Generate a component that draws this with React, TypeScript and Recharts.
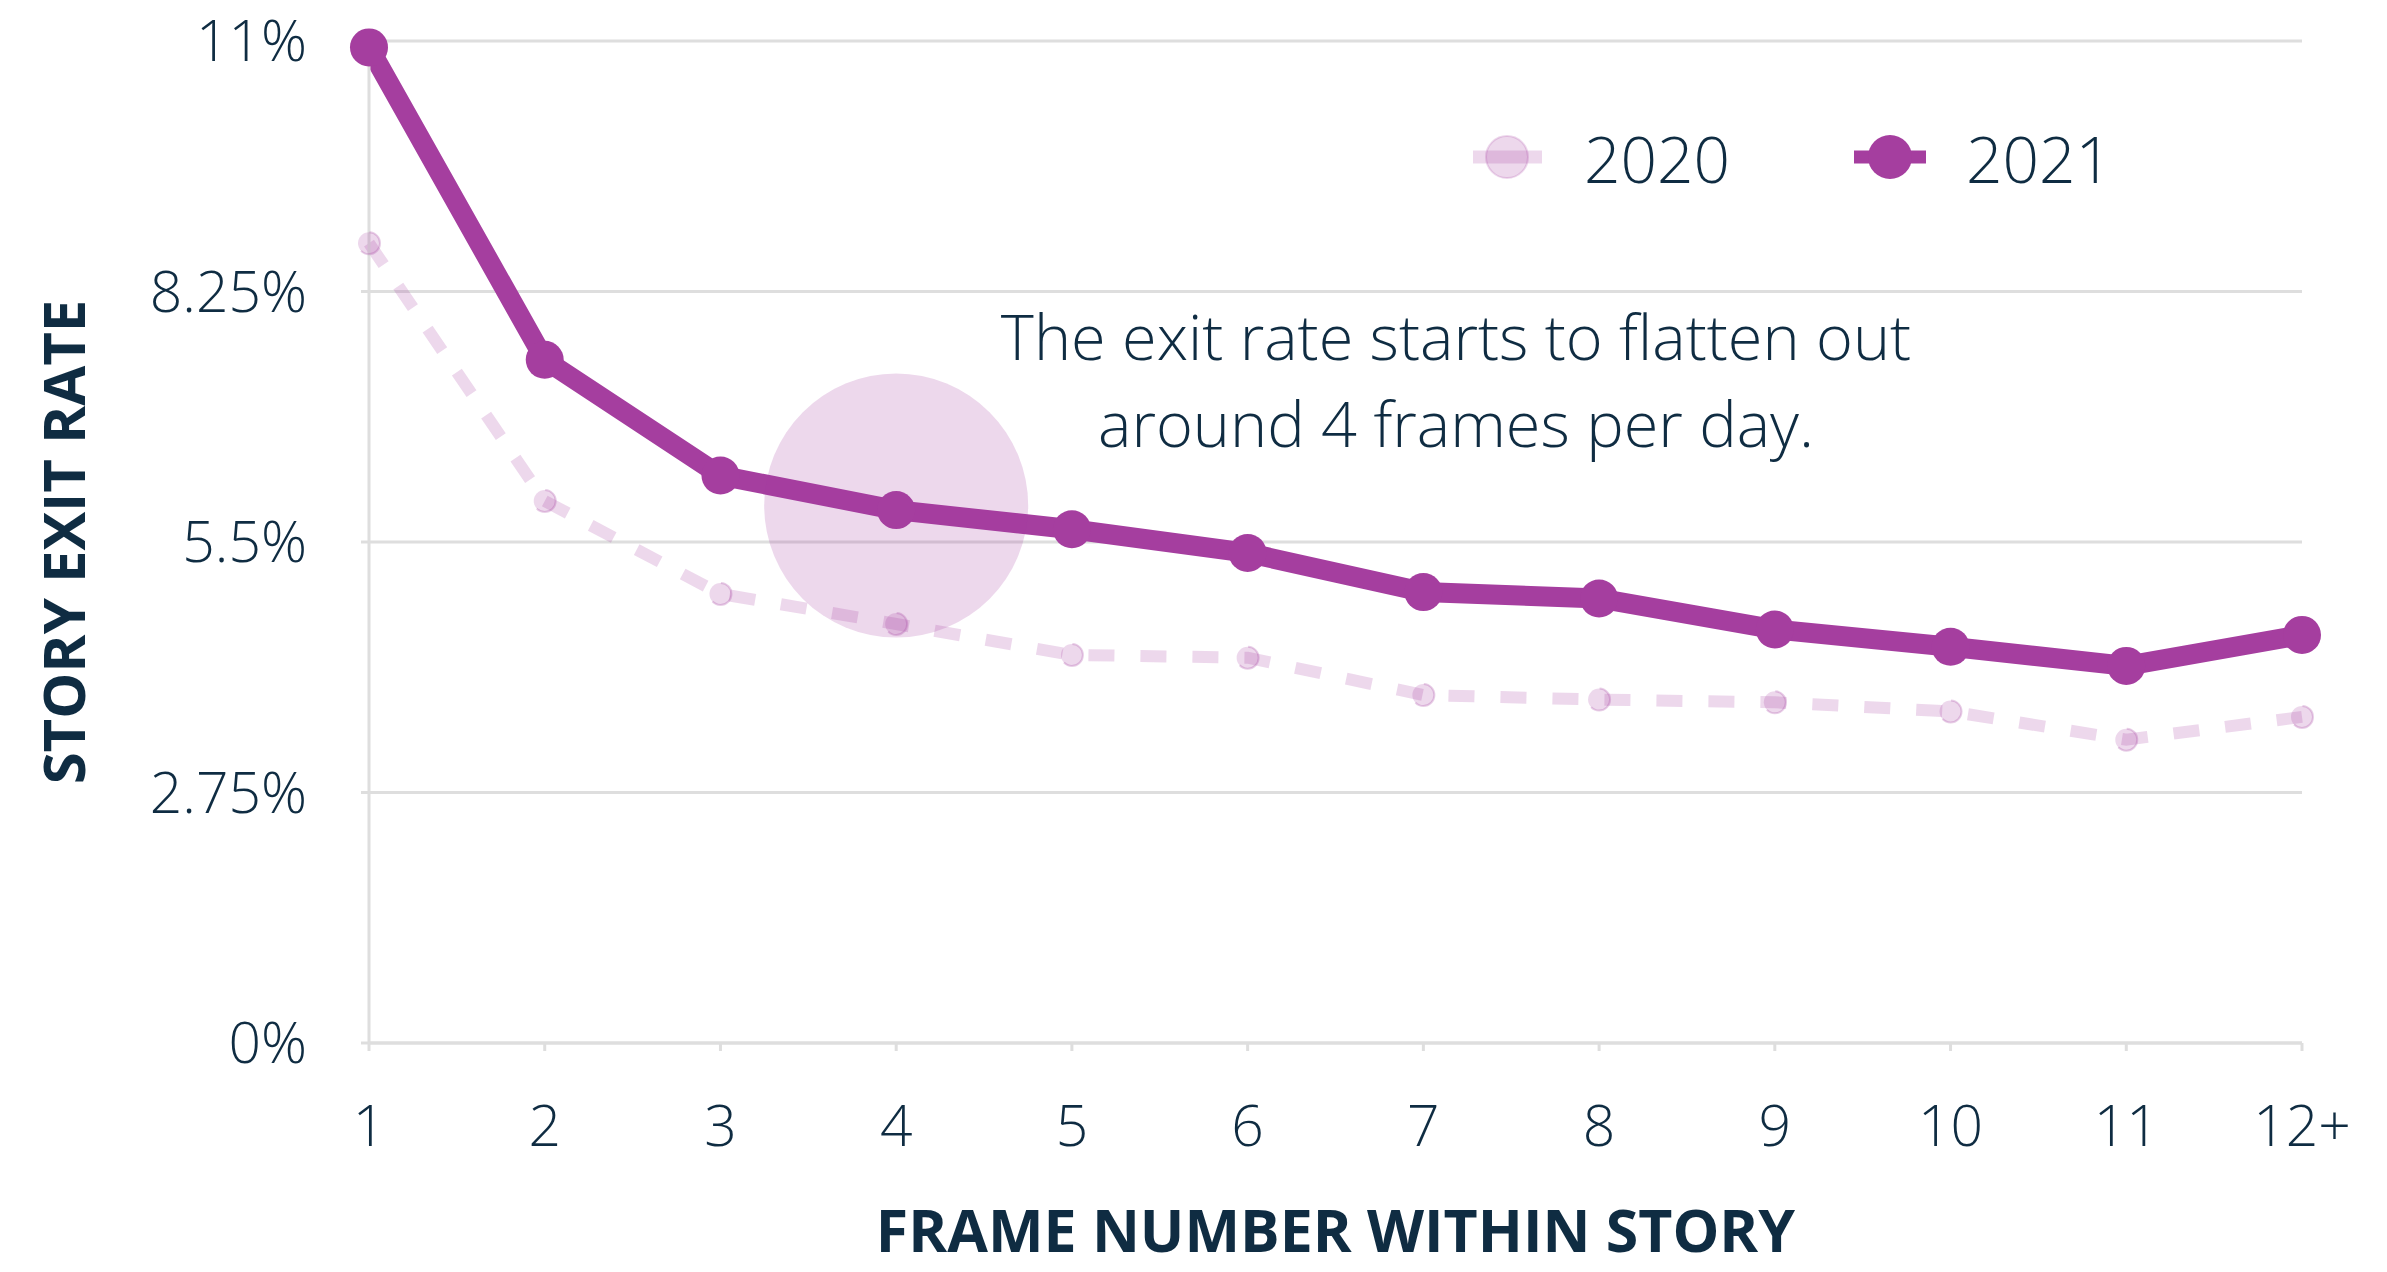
import React from "react";
import {
  LineChart,
  Line,
  XAxis,
  YAxis,
  CartesianGrid,
  Legend,
  ReferenceDot,
} from "recharts";

const frames = ["1", "2", "3", "4", "5", "6", "7", "8", "9", "10", "11", "12+"];
const exit2020 = [8.78, 5.95, 4.93, 4.6, 4.26, 4.23, 3.82, 3.77, 3.74, 3.64, 3.33, 3.58];
const exit2021 = [10.93, 7.5, 6.23, 5.85, 5.64, 5.38, 4.95, 4.88, 4.54, 4.35, 4.14, 4.48];
const yTicks = [0, 2.75, 5.5, 8.25, 11];
const noteLines = ["The exit rate starts to flatten out", "around 4 frames per day."];

const data = frames.map((f, i) => ({ frame: f, y2020: exit2020[i], y2021: exit2021[i] }));

const NAVY = "#0f2c42";
const PURPLE = "#a53e9f";
const GRID = "#dedede";
const FONT = "'Open Sans', sans-serif";

function LegendBox() {
  return (
    <svg width={720} height={100}>
      <line x1={13} x2={82} y1={45} y2={45} stroke={PURPLE} strokeOpacity={0.2} strokeWidth={13} />
      <circle cx={47} cy={45} r={21} fill={PURPLE} fillOpacity={0.2} stroke={PURPLE} strokeOpacity={0.2} strokeWidth={2} />
      <text x={124} y={71} fontSize={64} fontWeight={300} fontFamily={FONT} fill={NAVY}>
        2020
      </text>
      <line x1={394} x2={466} y1={45} y2={45} stroke={PURPLE} strokeWidth={13} />
      <circle cx={430} cy={45} r={22} fill={PURPLE} />
      <text x={506} y={71} fontSize={64} fontWeight={300} fontFamily={FONT} fill={NAVY}>
        2021
      </text>
    </svg>
  );
}

export default function App() {
  return (
    <div style={{ position: "absolute", left: 0, top: 0, background: "#fff" }}>
      <LineChart
        width={2387}
        height={1272}
        data={data}
        margin={{ top: 41, right: 85, left: 0, bottom: 0 }}
      >
        <CartesianGrid vertical={false} stroke={GRID} strokeWidth={3} />
        <XAxis
          dataKey="frame"
          height={229}
          tickSize={8}
          tickMargin={55}
          axisLine={{ stroke: GRID, strokeWidth: 3 }}
          tickLine={{ stroke: GRID, strokeWidth: 3 }}
          tick={{ fontSize: 57, fontWeight: 300, fill: NAVY, fontFamily: FONT }}
          interval={0}
          label={({ viewBox }: any) => (
            <text
              x={viewBox.x + viewBox.width / 2}
              y={viewBox.y + viewBox.height - 20}
              textAnchor="middle"
              fontSize={59}
              fontWeight={700}
              fontFamily={FONT}
              fill={NAVY}
            >
              FRAME NUMBER WITHIN STORY
            </text>
          )}
        />
        <YAxis
          width={369}
          domain={[0, 11]}
          ticks={yTicks}
          tickFormatter={(v: number) => `${v}%`}
          tickSize={8}
          tickMargin={54}
          axisLine={{ stroke: GRID, strokeWidth: 3 }}
          tickLine={{ stroke: GRID, strokeWidth: 3 }}
          tick={{ fontSize: 57, fontWeight: 300, fill: NAVY, fontFamily: FONT }}
          label={({ viewBox }: any) => (
            <text
              transform={`translate(85, ${viewBox.y + viewBox.height / 2}) rotate(-90)`}
              textAnchor="middle"
              fontSize={58}
              fontWeight={700}
              fontFamily={FONT}
              fill={NAVY}
            >
              STORY EXIT RATE
            </text>
          )}
        />
        <Legend
          verticalAlign="middle"
          align="center"
          layout="horizontal"
          content={() => <LegendBox />}
          wrapperStyle={{ left: 1460, top: 112, width: 720, height: 100 }}
        />
        <ReferenceDot
          x="4"
          y={5.9}
          r={132}
          fill={PURPLE}
          fillOpacity={0.2}
          stroke="none"
          label={() => (
            <g>
              {noteLines.map((t, i) => (
                <text
                  key={t}
                  x={1456}
                  y={360 + i * 87}
                  textAnchor="middle"
                  fontSize={63}
                  fontWeight={300}
                  fontFamily={FONT}
                  fill={NAVY}
                >
                  {t}
                </text>
              ))}
            </g>
          )}
        />
        <Line
          dataKey="y2020"
          name="2020"
          stroke={PURPLE}
          strokeOpacity={0.2}
          strokeWidth={12}
          strokeDasharray="26 26"
          dot={{ r: 11, fill: PURPLE, fillOpacity: 0.2, stroke: PURPLE, strokeOpacity: 0.25, strokeWidth: 2 }}
          activeDot={false}
          isAnimationActive={false}
        />
        <Line
          dataKey="y2021"
          name="2021"
          stroke={PURPLE}
          strokeWidth={20}
          dot={{ r: 19, fill: PURPLE, stroke: "none" }}
          activeDot={false}
          isAnimationActive={false}
        />
      </LineChart>
    </div>
  );
}
